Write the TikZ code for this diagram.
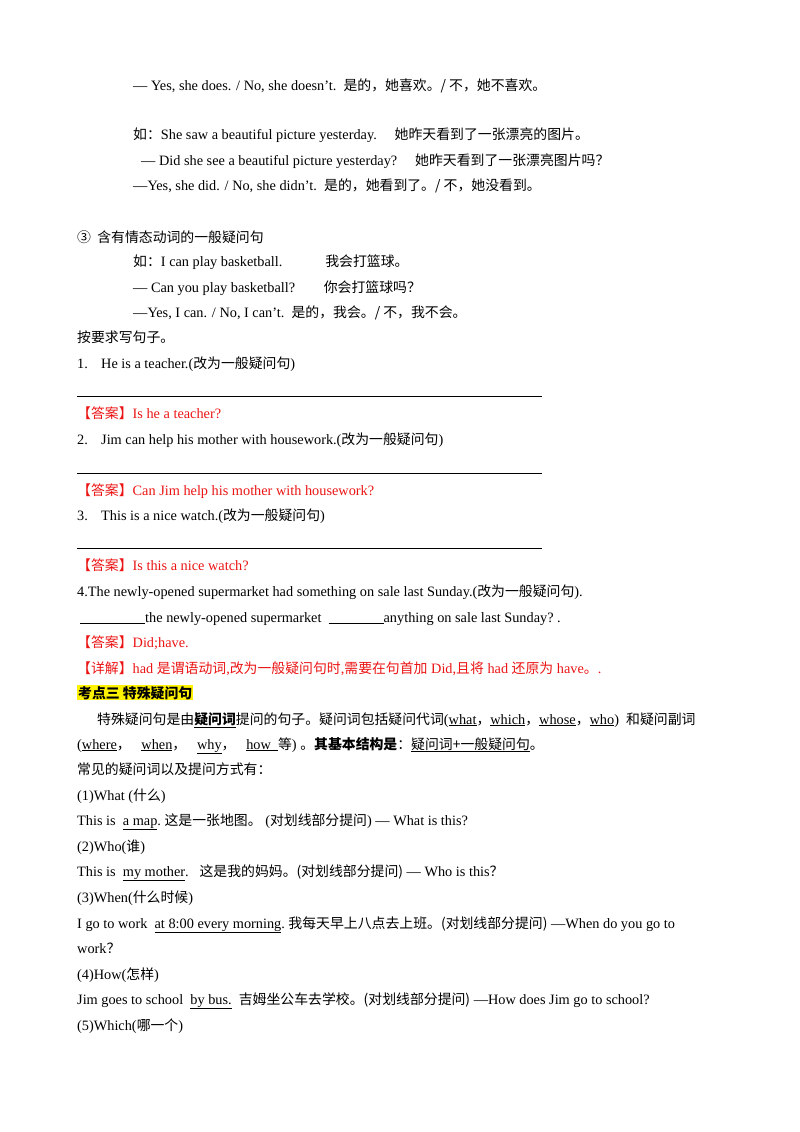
\documentclass[tikz,border=0pt]{standalone}
\usepackage{fontspec}
\setmainfont{Liberation Serif}
\newfontfamily\cjk{Noto Sans CJK SC}[Scale=0.97]
\newcommand{\zh}[1]{{\cjk #1}}
\newcommand{\ul}[1]{\underline{#1}}
\definecolor{ansred}{RGB}{235,20,20}
\begin{document}
\begin{tikzpicture}[x=1pt,y=-1pt,
  t/.style={anchor=base west,inner sep=0pt,font=\fontsize{14.3}{16}\selectfont},
  r/.style={t,text=ansred},
  rule/.style={line width=0.6pt}]
\useasboundingbox (0,0) rectangle (800,1132);
\node[t] (l1) at (133,90) {— Yes, she does. / No, she doesn't.\ \ \zh{是的，她喜欢。/ 不，她不喜欢。}};
\node[t] (l2) at (133,139) {\zh{如：}She saw a beautiful picture yesterday.\quad\ \zh{她昨天看到了一张漂亮的图片。}};
\node[t] (l3) at (141,165) {— Did she see a beautiful picture yesterday?\quad\ \zh{她昨天看到了一张漂亮图片吗？}};
\node[t] (l4) at (133,190) {—Yes, she did. / No, she didn't.\ \ \zh{是的，她看到了。/ 不，她没看到。}};
\node[t] (l5) at (77,242) {\zh{③\ \ 含有情态动词的一般疑问句}};
\node[t] (l6) at (133,266) {\zh{如：}I can play basketball.\qquad\quad \zh{我会打篮球。}};
\node[t] (l7) at (133,292) {— Can you play basketball?\qquad \zh{你会打篮球吗？}};
\node[t] (l8) at (133,317) {—Yes, I can. / No, I can't.\ \ \zh{是的，我会。/ 不，我不会。}};
\node[t] (l9) at (77,342) {\zh{按要求写句子。}};
\node[t] (n1) at (77,368) {1.};
\node[t] (q1) at (101,368) {He is a teacher.(\zh{改为一般疑问句})};
\draw[rule] (77,396) -- (542,396);
\node[r] (a1) at (77,418) {\zh{【答案】}Is he a teacher?};
\node[t] (n2) at (77,444) {2.};
\node[t] (q2) at (101,444) {Jim can help his mother with housework.(\zh{改为一般疑问句})};
\draw[rule] (77,473) -- (542,473);
\node[r] (a2) at (77,495) {\zh{【答案】}Can Jim help his mother with housework?};
\node[t] (n3) at (77,520) {3.};
\node[t] (q3) at (101,520) {This is a nice watch.(\zh{改为一般疑问句})};
\draw[rule] (77,548) -- (542,548);
\node[r] (a3) at (77,570) {\zh{【答案】}Is this a nice watch?};
\node[t] (q4) at (77,596) {4.The newly-opened supermarket had something on sale last Sunday.(\zh{改为一般疑问句}).};
\node[t] (b4) at (80,622) {\ul{\hspace{65pt}}the newly-opened supermarket\ \ \ul{\hspace{55pt}}anything on sale last Sunday?\ .};
\node[r] (a4) at (77,647) {\zh{【答案】}Did;have.};
\node[r] (d4) at (77,673) {\zh{【详解】}had \zh{是谓语动词}{,}\zh{改为一般疑问句时}{,}\zh{需要在句首加} Did{,}\zh{且将} had \zh{还原为} have\zh{。}.};
\node[t,fill=yellow,inner sep=1pt] (h) at (77,698) {\zh{\bfseries 考点三\ 特殊疑问句}};
\node[t] (p1) at (97,724) {\zh{特殊疑问句是由\ul{\bfseries 疑问词}提问的句子。疑问词包括疑问代词}(\ul{what}\zh{，}\ul{which}\zh{，}\ul{whose}\zh{，}\ul{who})\ \ \zh{和疑问副词}};
\node[t] (p2) at (77,749) {(\ul{where}\zh{，}\ \ \ \ul{when}\zh{，}\ \ \ \ul{why}\zh{，}\ \ \ \ul{how\ \ }\zh{等}) \zh{。\bfseries 其基本结构是}\zh{：\ul{疑问词+一般疑问句}。}};
\node[t] (p3) at (77,774) {\zh{常见的疑问词以及提问方式有：}};
\node[t] (w1) at (77,800) {(1)What (\zh{什么})};
\node[t] (e1) at (77,825) {This is\ \ \ul{a map}.\ \zh{这是一张地图。}\ (\zh{对划线部分提问}) — What is this?};
\node[t] (w2) at (77,851) {(2)Who(\zh{谁})};
\node[t] (e2) at (77,876) {This is\ \ \ul{my mother}.\ \ \ \zh{这是我的妈妈。(对划线部分提问)} — Who is this\zh{？}};
\node[t] (w3) at (77,902) {(3)When(\zh{什么时候})};
\node[t] (e3) at (77,928) {I go to work\ \ \ul{at 8:00 every morning}.\ \zh{我每天早上八点去上班。(对划线部分提问)} —When do you go to};
\node[t] (e3b) at (77,953) {work\zh{？}};
\node[t] (w4) at (77,979) {(4)How(\zh{怎样})};
\node[t] (e4) at (77,1004) {Jim goes to school\ \ \ul{by bus.}\ \ \zh{吉姆坐公车去学校。(对划线部分提问)} —How does Jim go to school?};
\node[t] (w5) at (77,1030) {(5)Which(\zh{哪一个})};
\end{tikzpicture}
\end{document}
